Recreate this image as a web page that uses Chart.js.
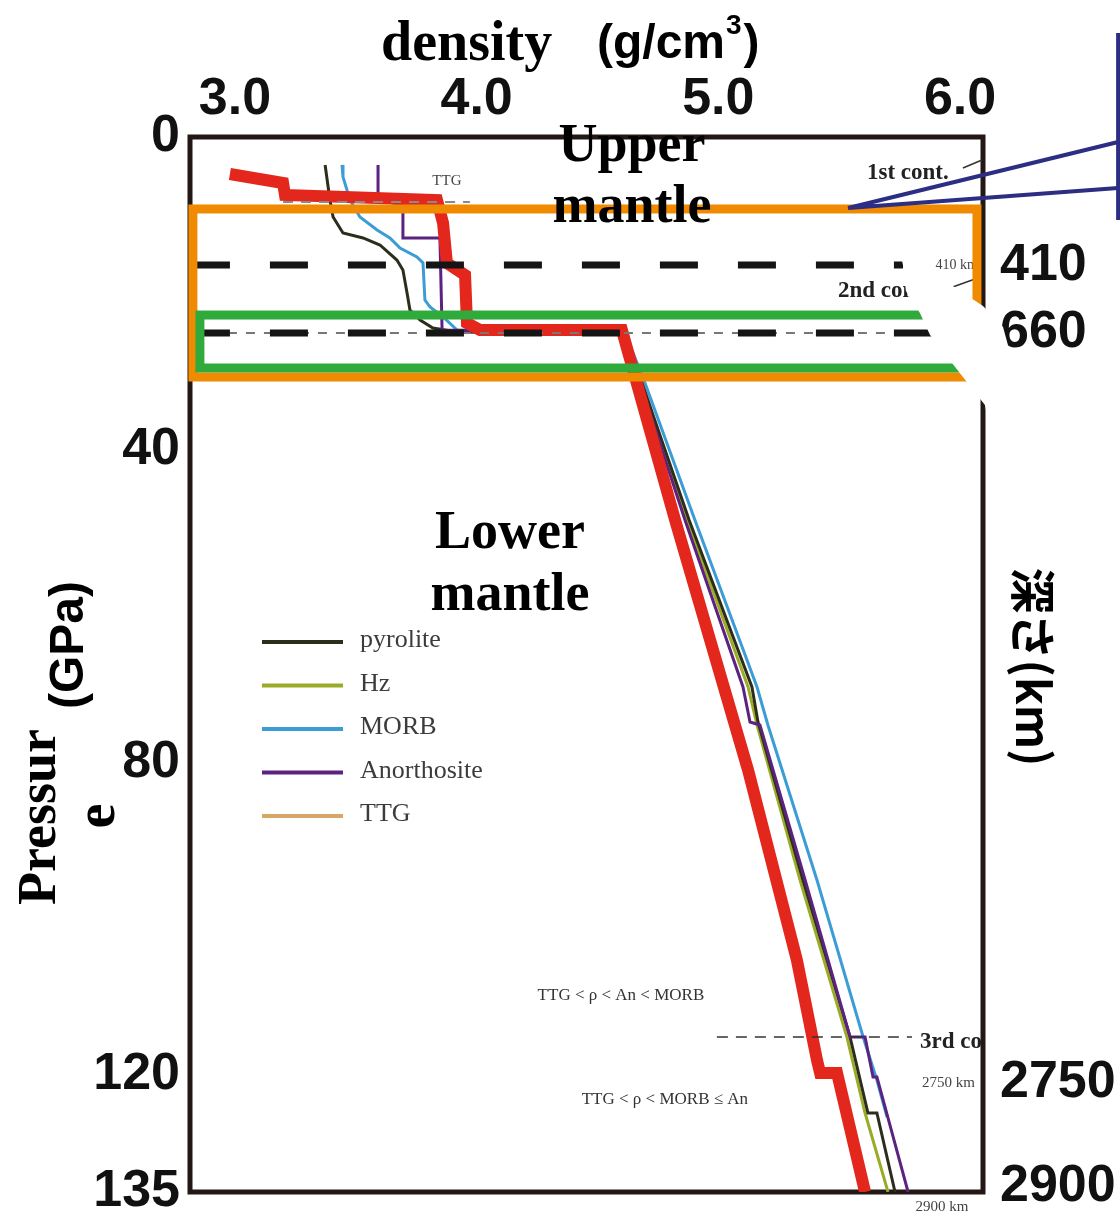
<!DOCTYPE html>
<html><head><meta charset="utf-8">
<script src="https://cdn.jsdelivr.net/npm/chart.js@4.4.1/dist/chart.umd.min.js"></script>
<style>html,body{margin:0;padding:0;background:#fff;}canvas{display:block;}</style>
</head><body>
<canvas id="c" width="1120" height="1215"></canvas>
<script>
// ---------------- data (density g/cm3 vs pressure GPa) ----------------
const densityTicks = [3.0, 4.0, 5.0, 6.0];
const pressureTicks = [0, 40, 80, 120, 135];
const depthTickPressure = [16.4, 25.1, 121.0, 134.3];
const depthTickLabels = ['410', '660', '2750', '2900'];

const seriesNames = ['pyrolite', 'Hz', 'MORB', 'Anorthosite', 'TTG'];

const pyroliteDensity = [3.373, 3.393, 3.406, 3.447, 3.530, 3.600, 3.670, 3.695, 3.712, 3.724, 3.766, 3.819, 3.919, 4.614, 4.680, 4.879, 5.139, 5.164, 5.350, 5.545, 5.619, 5.656, 5.731];
const pyrolitePressure = [3.58, 8.06, 10.24, 12.28, 12.92, 13.82, 15.74, 17.02, 19.96, 22.14, 23.42, 24.44, 24.95, 25.21, 31.10, 49.01, 70.38, 74.86, 95.08, 115.17, 124.89, 124.89, 135];

const hzDensity = [4.614, 4.676, 4.870, 5.123, 5.160, 5.338, 5.532, 5.607, 5.702];
const hzPressure = [25.21, 31.10, 49.01, 70.38, 75.24, 95.08, 115.17, 124.89, 135];

const morbDensity = [3.443, 3.447, 3.476, 3.517, 3.588, 3.641, 3.683, 3.753, 3.778, 3.786, 3.807, 3.861, 3.919, 4.614, 4.692, 4.903, 5.160, 5.205, 5.408, 5.599, 5.656, 5.698];
const morbPressure = [3.58, 5.12, 8.06, 10.24, 11.90, 12.92, 14.20, 15.36, 16.12, 20.86, 21.75, 23.03, 24.70, 25.08, 31.10, 49.01, 70.38, 75.24, 95.08, 115.17, 120.67, 125.40];

const anorthositeDensity = [3.592, 3.592, 3.695, 3.695, 3.848, 3.857, 4.614, 4.672, 4.862, 5.102, 5.131, 5.172, 5.359, 5.545, 5.607, 5.640, 5.656, 5.785];
const anorthositePressure = [3.58, 8.06, 8.70, 12.92, 12.92, 24.70, 25.08, 31.10, 49.01, 70.38, 74.86, 75.24, 95.08, 115.17, 115.17, 120.28, 120.28, 135];

const ttgDensity = [];
const ttgPressure = [];

const highlightDensity = [2.979, 3.199, 3.207, 3.836, 3.861, 3.877, 3.952, 3.960, 4.014, 4.601, 4.821, 5.123, 5.325, 5.408, 5.421, 5.491, 5.607];
const highlightPressure = [4.73, 5.89, 7.42, 8.06, 11.00, 16.12, 17.66, 23.80, 24.70, 24.70, 49.01, 81.00, 105.31, 118.11, 119.77, 119.77, 135];

// ---------------- annotation anchors (data units) ----------------
const P410 = 16.38, P660 = 25.08, P3rd = 115.17, PttgLine = 8.32;
const thick410Range = [2.822, 5.764];
const thick660Range = [2.822, 6.000];
const orangeBox = [2.826, 6.070, 9.21, 30.71];
const greenBox = [2.855, 6.062, 22.78, 29.56];
const wedge = [[5.747,14.08],[5.855,16.25],[5.958,18.81],[6.095,21.63],[6.178,24.31],[6.215,28.54],[6.248,36.21],[6.116,36.21],[6.103,34.29],[6.012,30.71],[5.876,25.34],[5.834,22.52],[5.776,19.71],[5.764,16.38]];
const callout = {apex:[5.537, 9.09], a:[6.654, 0.64], b:[6.654, 6.53], boxX:6.654, boxTop:-13.31, boxBottom:10.62};

const zip = (xs, ys) => xs.map((v, i) => ({x: v, y: ys[i]}));
const SERIF = "'Liberation Serif','Times New Roman',serif";
const SANS = "'Liberation Sans',Arial,sans-serif";

const colors = {pyrolite:'#2c2e1b', Hz:'#9bab26', MORB:'#3b9cd6', Anorthosite:'#5b2280', TTG:'#d8a763'};

function mkLine(label, xs, ys, color, w, order) {
  return {label, data: zip(xs, ys), borderColor: color, backgroundColor: color, borderWidth: w,
    pointRadius: 0, tension: 0, fill: false, order, borderJoinStyle: 'miter', borderCapStyle: 'butt'};
}

const datasets = [
  mkLine('highlight', highlightDensity, highlightPressure, '#e4271d', 12, 0),
  mkLine(seriesNames[0], pyroliteDensity, pyrolitePressure, colors.pyrolite, 3, 2),
  mkLine(seriesNames[1], hzDensity, hzPressure, colors.Hz, 3, 3),
  mkLine(seriesNames[2], morbDensity, morbPressure, colors.MORB, 3, 4),
  mkLine(seriesNames[3], anorthositeDensity, anorthositePressure, colors.Anorthosite, 3, 1),
  mkLine(seriesNames[4], ttgDensity, ttgPressure, colors.TTG, 3, 5)
];

function txt(ctx, s, x, y, font, color, align, base) {
  ctx.font = font; ctx.fillStyle = color; ctx.textAlign = align || 'left'; ctx.textBaseline = base || 'alphabetic';
  ctx.fillText(s, x, y);
}

const overlay = {
  id: 'overlay',
  beforeDatasetsDraw(chart) {
    const {ctx, chartArea: a} = chart;
    ctx.save();
    ctx.strokeStyle = '#231815'; ctx.lineWidth = 5;
    ctx.strokeRect(a.left, a.top, a.right - a.left, a.bottom - a.top);
    ctx.restore();
  },
  afterDatasetsDraw(chart) {
    const {ctx, chartArea: a} = chart;
    const X = v => chart.scales.x.getPixelForValue(v);
    const Y = v => chart.scales.y.getPixelForValue(v);
    ctx.save();
    ctx.lineCap = 'butt';
    ctx.strokeStyle = '#8a8a8a'; ctx.lineWidth = 2; ctx.setLineDash([10, 8]);
    ctx.beginPath(); ctx.moveTo(X(3.199), Y(PttgLine)); ctx.lineTo(X(3.972), Y(PttgLine)); ctx.stroke();
    ctx.strokeStyle = '#777'; ctx.lineWidth = 2; ctx.setLineDash([9, 9]);
    ctx.beginPath(); ctx.moveTo(X(2.822), Y(P660)); ctx.lineTo(X(6.0), Y(P660)); ctx.stroke();
    ctx.strokeStyle = '#333'; ctx.lineWidth = 1.5; ctx.setLineDash([11, 8]);
    ctx.beginPath(); ctx.moveTo(X(4.994), Y(P3rd)); ctx.lineTo(X(5.801), Y(P3rd)); ctx.stroke();
    ctx.setLineDash([]);
    ctx.strokeStyle = '#333'; ctx.lineWidth = 1.5;
    ctx.beginPath(); ctx.moveTo(X(6.012), Y(3.97)); ctx.lineTo(X(6.091), Y(2.94)); ctx.stroke();
    ctx.beginPath(); ctx.moveTo(X(5.958), Y(19.32)); ctx.lineTo(X(6.062), Y(18.17)); ctx.stroke();

    txt(ctx, 'TTG', X(3.877), Y(5.63), '15px ' + SERIF, '#444', 'center', 'middle');
    txt(ctx, '1st cont.', X(5.615), Y(4.61), 'bold 23px ' + SERIF, '#222', 'left', 'middle');
    txt(ctx, '2nd cont.', X(5.495), Y(19.71), 'bold 23px ' + SERIF, '#222', 'left', 'middle');
    txt(ctx, '410 km', X(6.074), Y(16.38), '14px ' + SERIF, '#444', 'right', 'middle');
    ctx.save();
    ctx.beginPath(); ctx.rect(a.left, a.top, a.right - a.left - 2, a.bottom - a.top); ctx.clip();
    txt(ctx, '3rd cont.', X(5.834), Y(115.81), 'bold 23px ' + SERIF, '#222', 'left', 'middle');
    ctx.restore();
    txt(ctx, '2750 km', X(6.062), Y(121.05), '15px ' + SERIF, '#444', 'right', 'middle');
    txt(ctx, '2900 km', X(5.925), Y(136.92), '15px ' + SERIF, '#444', 'center', 'middle');
    txt(ctx, 'TTG < ρ < An < MORB', X(4.597), Y(109.92), '17px ' + SERIF, '#333', 'center', 'middle');
    txt(ctx, 'TTG < ρ < MORB ≤ An', X(4.779), Y(123.23), '17px ' + SERIF, '#333', 'center', 'middle');

    seriesNames.forEach((n, i) => {
      const yy = a.top + 505 + i * 43.5;
      ctx.strokeStyle = colors[n]; ctx.lineWidth = 4;
      ctx.beginPath(); ctx.moveTo(a.left + 72, yy); ctx.lineTo(a.left + 153, yy); ctx.stroke();
      txt(ctx, n, a.left + 170, yy + 5, '26px ' + SERIF, '#3c3c3c', 'left', 'alphabetic');
    });

    ctx.strokeStyle = '#151515'; ctx.lineWidth = 7; ctx.setLineDash([38, 40]);
    ctx.beginPath(); ctx.moveTo(X(thick410Range[0]), Y(P410)); ctx.lineTo(X(thick410Range[1]), Y(P410)); ctx.stroke();
    ctx.beginPath(); ctx.moveTo(X(thick660Range[0]), Y(P660)); ctx.lineTo(X(thick660Range[1]), Y(P660)); ctx.stroke();
    ctx.setLineDash([]);

    ctx.lineJoin = 'miter';
    ctx.strokeStyle = '#f08a00'; ctx.lineWidth = 9;
    ctx.strokeRect(X(orangeBox[0]), Y(orangeBox[2]), X(orangeBox[1]) - X(orangeBox[0]), Y(orangeBox[3]) - Y(orangeBox[2]));
    ctx.strokeStyle = '#2faa3b'; ctx.lineWidth = 9;
    ctx.strokeRect(X(greenBox[0]), Y(greenBox[2]), X(greenBox[1]) - X(greenBox[0]), Y(greenBox[3]) - Y(greenBox[2]));

    const big = 'bold 54px ' + SERIF;
    txt(ctx, 'Upper', X(4.643), Y(3.07), big, '#000', 'center', 'alphabetic');
    txt(ctx, 'mantle', X(4.643), Y(10.88), big, '#000', 'center', 'alphabetic');
    txt(ctx, 'Lower', X(4.138), Y(52.59), big, '#000', 'center', 'alphabetic');
    txt(ctx, 'mantle', X(4.138), Y(60.53), big, '#000', 'center', 'alphabetic');
    ctx.restore();
  },
  afterDraw(chart) {
    const {ctx} = chart;
    const X = v => chart.scales.x.getPixelForValue(v);
    const Y = v => chart.scales.y.getPixelForValue(v);
    ctx.save();
    txt(ctx, 'density', 381, 60, 'bold 56px ' + SERIF, '#000', 'left', 'alphabetic');
    const s1 = '(g/cm';
    txt(ctx, s1, 597, 58, 'bold 48px ' + SANS, '#000', 'left', 'alphabetic');
    ctx.font = 'bold 48px ' + SANS;
    const w1 = ctx.measureText(s1).width;
    txt(ctx, '3', 597 + w1 + 1, 34, 'bold 28px ' + SANS, '#000', 'left', 'alphabetic');
    ctx.font = 'bold 28px ' + SANS;
    const w2 = ctx.measureText('3').width;
    txt(ctx, ')', 597 + w1 + w2 + 3, 58, 'bold 48px ' + SANS, '#000', 'left', 'alphabetic');

    ctx.save(); ctx.translate(55, 905); ctx.rotate(-Math.PI / 2);
    txt(ctx, 'Pressur', 0, 0, 'bold 54px ' + SERIF, '#000', 'left', 'alphabetic'); ctx.restore();
    ctx.save(); ctx.translate(114, 816); ctx.rotate(-Math.PI / 2);
    txt(ctx, 'e', 0, 0, 'bold 56px ' + SERIF, '#000', 'center', 'alphabetic'); ctx.restore();
    ctx.save(); ctx.translate(70, 645); ctx.rotate(-Math.PI / 2);
    txt(ctx, '(GPa)', 0, 0, 'bold 48px ' + SANS, '#000', 'center', 'middle'); ctx.restore();
    ctx.save(); ctx.translate(1033, 667); ctx.rotate(Math.PI / 2);
    txt(ctx, '深さ(km)', 0, 0, "bold 46px 'Noto Sans CJK JP',sans-serif", '#000', 'center', 'middle'); ctx.restore();

    ctx.fillStyle = '#fff';
    ctx.beginPath();
    wedge.forEach((p, i) => { const px = X(p[0]), py = Y(p[1]); if (i) ctx.lineTo(px, py); else ctx.moveTo(px, py); });
    ctx.closePath(); ctx.fill();

    ctx.strokeStyle = '#2b2e83'; ctx.lineWidth = 4; ctx.lineJoin = 'miter';
    ctx.beginPath();
    ctx.moveTo(X(callout.a[0]), Y(callout.a[1])); ctx.lineTo(X(callout.apex[0]), Y(callout.apex[1])); ctx.lineTo(X(callout.b[0]), Y(callout.b[1]));
    ctx.stroke();
    ctx.beginPath(); ctx.moveTo(X(callout.boxX), Y(callout.boxTop)); ctx.lineTo(X(callout.boxX), Y(callout.boxBottom)); ctx.stroke();
    ctx.restore();
  }
};

const tickFont = {family: SANS, size: 52, weight: 'bold'};
const noPad = s => { s.paddingTop = 0; s.paddingBottom = 0; s.paddingLeft = 0; s.paddingRight = 0; };

new Chart(document.getElementById('c'), {
  type: 'line',
  data: {datasets},
  options: {
    responsive: false, animation: false, devicePixelRatio: 1,
    layout: {padding: {left: 0, right: 0, top: 0, bottom: 23}},
    plugins: {legend: {display: false}, tooltip: {enabled: false}, title: {display: false}},
    scales: {
      x: {
        type: 'linear', position: 'top', min: 2.814, max: 6.095,
        grid: {display: false, drawTicks: false}, border: {display: false},
        afterBuildTicks: s => { s.ticks = densityTicks.map(v => ({value: v})); },
        afterFit: s => { s.height = 137; noPad(s); },
        ticks: {font: tickFont, color: '#111', padding: 6, maxRotation: 0, autoSkip: false, callback: v => Number(v).toFixed(1)}
      },
      y: {
        type: 'linear', position: 'left', reverse: true, min: 0, max: 135,
        grid: {display: false, drawTicks: false}, border: {display: false},
        afterBuildTicks: s => { s.ticks = pressureTicks.map(v => ({value: v})); },
        afterFit: s => { s.width = 190; noPad(s); },
        ticks: {font: tickFont, color: '#111', padding: 10, autoSkip: false, callback: v => String(v)}
      },
      y2: {
        type: 'linear', position: 'right', reverse: true, min: 0, max: 135,
        grid: {display: false, drawTicks: false}, border: {display: false},
        afterBuildTicks: s => { s.ticks = depthTickPressure.map(v => ({value: v})); },
        afterFit: s => { s.width = 137; noPad(s); },
        ticks: {font: tickFont, color: '#111', padding: 17, autoSkip: false,
          callback: (v, i) => depthTickLabels[i]}
      }
    }
  },
  plugins: [overlay]
});
</script>
</body></html>
